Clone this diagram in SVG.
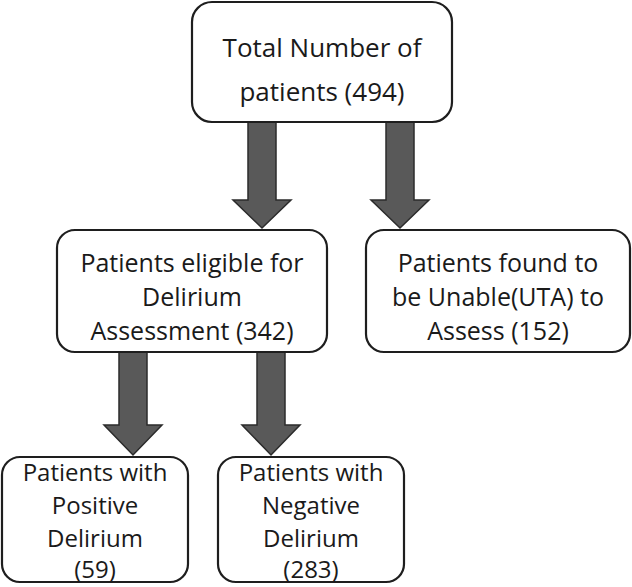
<svg xmlns="http://www.w3.org/2000/svg" width="632" height="587" viewBox="0 0 632 587">
<defs>
<style>
.box{fill:#fff;stroke:#1e1e1e;stroke-width:2.2}
.arrow{fill:#595959;stroke:#2b2b2b;stroke-width:1.5;stroke-linejoin:miter}
text{font-family:"Open Sans","Liberation Sans",sans-serif;fill:#1a1a1a;text-anchor:middle}
.t1{font-size:26px}
.t2{font-size:25px}
.t3{font-size:24px}
</style>
</defs>
<rect width="632" height="587" fill="#fff"/>
<g id="connectors">
<path class="arrow" d="M248,122 L276,122 L276,200 L291,200 L262,228 L233,200 L248,200 Z"/>
<path class="arrow" d="M386,122 L414,122 L414,200 L429,200 L400,228 L371,200 L386,200 Z"/>
<path class="arrow" d="M119,352 L147,352 L147,425 L162,425 L133,455 L104,425 L119,425 Z"/>
<path class="arrow" d="M257,352 L285,352 L285,425 L300,425 L271,455 L242,425 L257,425 Z"/>
</g>
<g id="total">
<rect class="box" x="192" y="2" width="260" height="120" rx="20"/>
<text class="t1" x="322" y="57">Total Number of</text>
<text class="t1" x="322" y="101">patients (494)</text>
</g>
<g id="eligible">
<rect class="box" x="57" y="230" width="270" height="122" rx="18"/>
<text class="t2" x="192" y="272">Patients eligible for</text>
<text class="t2" x="192" y="306">Delirium</text>
<text class="t2" x="192" y="340">Assessment (342)</text>
</g>
<g id="uta">
<rect class="box" x="366" y="230" width="264" height="122" rx="18"/>
<text class="t2" x="498" y="272">Patients found to</text>
<text class="t2" x="498" y="306">be Unable(UTA) to</text>
<text class="t2" x="498" y="340">Assess (152)</text>
</g>
<g id="positive">
<rect class="box" x="2" y="457" width="186" height="125" rx="18"/>
<text class="t3" x="95" y="481">Patients with</text>
<text class="t3" x="95" y="514">Positive</text>
<text class="t3" x="95" y="547">Delirium</text>
<text class="t3" x="95" y="578">(59)</text>
</g>
<g id="negative">
<rect class="box" x="218" y="457" width="186" height="125" rx="18"/>
<text class="t3" x="311" y="481">Patients with</text>
<text class="t3" x="311" y="514">Negative</text>
<text class="t3" x="311" y="547">Delirium</text>
<text class="t3" x="311" y="578">(283)</text>
</g>
</svg>
